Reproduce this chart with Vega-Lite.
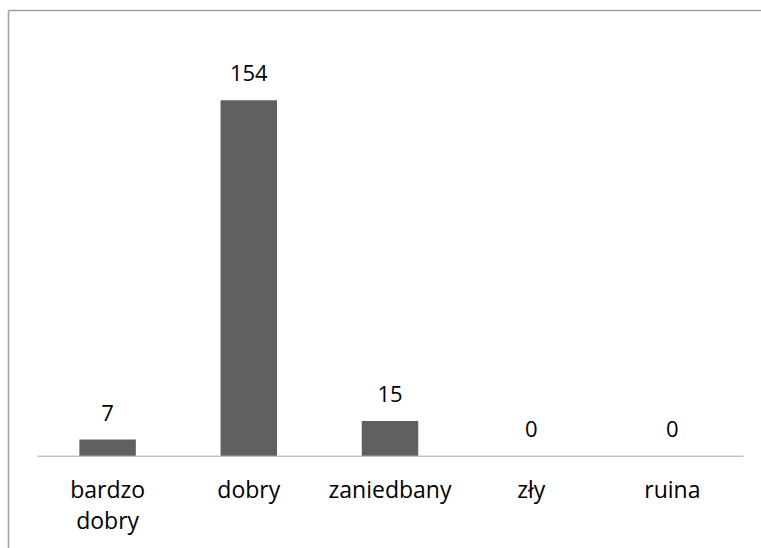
{
  "$schema": "https://vega.github.io/schema/vega-lite/v6.json",
  "autosize": {"type": "none"},
  "padding": {"left": 8, "top": 10, "right": 0, "bottom": 0},
  "width": 753,
  "height": 538,
  "background": "#ffffff",
  "config": {
    "view": {"stroke": null},
    "font": "Open Sans"
  },
  "data": {
    "values": [
      {"stan": "bardzo dobry", "liczba": 7},
      {"stan": "dobry", "liczba": 154},
      {"stan": "zaniedbany", "liczba": 15},
      {"stan": "zły", "liczba": 0},
      {"stan": "ruina", "liczba": 0}
    ]
  },
  "layer": [
    {
      "encoding": {
        "x": {
          "field": "stan",
          "type": "nominal",
          "sort": null,
          "scale": {"range": [29, 735], "paddingInner": 0.6, "paddingOuter": 0.3},
          "axis": {
            "title": null,
            "offset": -92.3,
            "ticks": false,
            "tickSize": 0,
            "grid": false,
            "domainColor": "#a6a6a6",
            "domainWidth": 1,
            "labelAngle": 0,
            "labelFont": "Open Sans",
            "labelFontSize": 23,
            "labelColor": "#000000",
            "labelBaseline": "alphabetic",
            "labelPadding": 42,
            "labelLineHeight": 31,
            "labelExpr": "split(datum.label, ' ')"
          }
        },
        "y": {
          "field": "liczba",
          "type": "quantitative",
          "scale": {"domain": [0, 154], "range": [445.7, 90.2], "nice": false, "zero": true},
          "axis": null
        }
      },
      "layer": [
        {"mark": {"type": "bar", "color": "#606060"}},
        {
          "mark": {"type": "text", "baseline": "alphabetic", "dy": -19, "fontSize": 22, "font": "Open Sans", "color": "#000000"},
          "encoding": {"text": {"field": "liczba", "type": "quantitative"}}
        }
      ]
    },
    {
      "mark": {"type": "point", "opacity": 0},
      "encoding": {
        "x": {
          "field": "liczba",
          "type": "quantitative",
          "scale": {"domain": [0, 1000], "nice": false},
          "axis": {"orient": "top", "title": null, "ticks": false, "labels": false, "grid": false, "domainColor": "#a0a0a0", "domainWidth": 1.5}
        },
        "y": {
          "field": "liczba",
          "type": "quantitative",
          "scale": {"domain": [0, 1000], "nice": false},
          "axis": {"orient": "left", "title": null, "ticks": false, "labels": false, "grid": false, "domainColor": "#a0a0a0", "domainWidth": 1.5}
        }
      }
    }
  ],
  "resolve": {
    "scale": {"x": "independent", "y": "independent"},
    "axis": {"x": "independent", "y": "independent"}
  }
}
